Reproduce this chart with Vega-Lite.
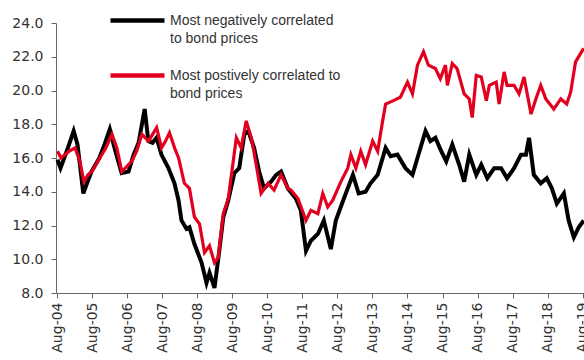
{
  "$schema": "https://vega.github.io/schema/vega-lite/v6.json",
  "width": 528,
  "height": 270,
  "autosize": {"type": "none"},
  "padding": {"left": 56, "top": 23, "right": 0, "bottom": 67},
  "background": "#ffffff",
  "config": {
    "view": {"stroke": null},
    "style": {"guide-label": {"lineHeight": 18}}
  },
  "datasets": {
    "neg": [
      {"date":"2004-08-05","value":15.9},{"date":"2004-09-05","value":15.4},{"date":"2004-11-15","value":16.5},
      {"date":"2005-01-20","value":17.6},{"date":"2005-03-01","value":16.8},{"date":"2005-05-01","value":13.9},
      {"date":"2005-06-15","value":14.6},{"date":"2005-07-25","value":15.2},{"date":"2005-10-15","value":16.0},
      {"date":"2005-12-08","value":16.8},{"date":"2006-02-01","value":17.7},{"date":"2006-03-22","value":16.6},
      {"date":"2006-06-04","value":15.1},{"date":"2006-08-15","value":15.2},{"date":"2006-10-07","value":16.2},
      {"date":"2006-11-28","value":16.9},{"date":"2007-01-30","value":18.9},{"date":"2007-03-10","value":17.0},
      {"date":"2007-04-22","value":16.9},{"date":"2007-06-03","value":17.2},{"date":"2007-07-24","value":16.2},
      {"date":"2007-10-05","value":15.4},{"date":"2007-12-07","value":14.5},{"date":"2008-01-18","value":13.5},
      {"date":"2008-02-18","value":12.3},{"date":"2008-04-10","value":11.8},{"date":"2008-05-11","value":11.9},
      {"date":"2008-07-02","value":10.9},{"date":"2008-09-14","value":9.8},{"date":"2008-11-05","value":8.6},
      {"date":"2008-12-06","value":9.2},{"date":"2009-01-27","value":8.3},{"date":"2009-03-18","value":10.5},
      {"date":"2009-04-29","value":12.5},{"date":"2009-06-20","value":13.5},{"date":"2009-08-22","value":15.1},
      {"date":"2009-10-12","value":15.4},{"date":"2009-12-04","value":17.4},{"date":"2010-01-15","value":17.6},
      {"date":"2010-03-16","value":16.6},{"date":"2010-05-07","value":15.2},{"date":"2010-06-28","value":14.2},
      {"date":"2010-09-09","value":14.6},{"date":"2010-11-01","value":15.0},{"date":"2010-12-22","value":15.2},
      {"date":"2011-03-03","value":14.2},{"date":"2011-05-25","value":13.6},{"date":"2011-07-16","value":12.9},
      {"date":"2011-09-08","value":10.5},{"date":"2011-10-29","value":11.1},{"date":"2012-01-10","value":11.5},
      {"date":"2012-03-12","value":12.3},{"date":"2012-05-24","value":10.6},{"date":"2012-07-15","value":12.3},
      {"date":"2012-10-07","value":13.6},{"date":"2013-01-09","value":15.0},{"date":"2013-03-10","value":13.9},
      {"date":"2013-05-21","value":14.0},{"date":"2013-07-12","value":14.5},{"date":"2013-09-24","value":15.0},
      {"date":"2013-12-16","value":16.6},{"date":"2014-02-06","value":16.1},{"date":"2014-04-18","value":16.2},
      {"date":"2014-07-11","value":15.4},{"date":"2014-09-22","value":15.0},{"date":"2014-11-13","value":16.0},
      {"date":"2015-02-05","value":17.6},{"date":"2015-03-28","value":17.0},{"date":"2015-05-19","value":17.2},
      {"date":"2015-07-19","value":16.4},{"date":"2015-09-09","value":15.8},{"date":"2015-11-11","value":16.8},
      {"date":"2016-01-22","value":15.6},{"date":"2016-03-14","value":14.6},{"date":"2016-05-06","value":16.2},
      {"date":"2016-07-18","value":15.0},{"date":"2016-09-08","value":15.6},{"date":"2016-11-10","value":14.8},
      {"date":"2017-01-21","value":15.4},{"date":"2017-04-03","value":15.4},{"date":"2017-06-04","value":14.8},
      {"date":"2017-08-16","value":15.4},{"date":"2017-10-27","value":16.2},{"date":"2017-12-18","value":16.2},
      {"date":"2018-01-19","value":17.2},{"date":"2018-03-10","value":15.0},{"date":"2018-05-21","value":14.5},
      {"date":"2018-07-23","value":14.8},{"date":"2018-09-14","value":14.2},{"date":"2018-11-05","value":13.3},
      {"date":"2019-01-17","value":13.9},{"date":"2019-03-08","value":12.3},{"date":"2019-05-01","value":11.3},
      {"date":"2019-06-21","value":11.9},{"date":"2019-08-12","value":12.3}
    ],
    "pos": [
      {"date":"2004-08-05","value":16.4},{"date":"2004-09-10","value":16.0},{"date":"2004-12-03","value":16.4},
      {"date":"2005-02-04","value":16.6},{"date":"2005-03-26","value":15.8},{"date":"2005-05-07","value":14.6},
      {"date":"2005-06-18","value":15.0},{"date":"2005-07-29","value":15.2},{"date":"2005-10-20","value":16.0},
      {"date":"2005-12-22","value":16.6},{"date":"2006-02-24","value":17.4},{"date":"2006-04-15","value":16.6},
      {"date":"2006-06-06","value":15.2},{"date":"2006-09-18","value":15.8},{"date":"2006-11-08","value":16.4},
      {"date":"2007-01-01","value":17.4},{"date":"2007-03-12","value":17.0},{"date":"2007-04-23","value":17.4},
      {"date":"2007-06-04","value":17.8},{"date":"2007-07-25","value":16.6},{"date":"2007-09-05","value":17.0},
      {"date":"2007-10-16","value":17.5},{"date":"2007-12-08","value":16.6},{"date":"2008-01-19","value":16.0},
      {"date":"2008-03-19","value":14.5},{"date":"2008-05-11","value":14.2},{"date":"2008-07-02","value":12.5},
      {"date":"2008-08-24","value":12.1},{"date":"2008-10-15","value":10.4},{"date":"2008-12-06","value":10.8},
      {"date":"2009-01-27","value":9.8},{"date":"2009-03-07","value":10.1},{"date":"2009-04-29","value":12.7},
      {"date":"2009-06-20","value":13.6},{"date":"2009-09-12","value":17.2},{"date":"2009-11-02","value":16.6},
      {"date":"2009-12-24","value":18.2},{"date":"2010-02-15","value":17.2},{"date":"2010-04-07","value":15.6},
      {"date":"2010-05-28","value":13.9},{"date":"2010-08-09","value":14.5},{"date":"2010-10-10","value":14.1},
      {"date":"2010-12-22","value":15.0},{"date":"2011-03-03","value":14.2},{"date":"2011-04-04","value":14.1},
      {"date":"2011-06-16","value":13.6},{"date":"2011-09-08","value":12.3},{"date":"2011-10-29","value":12.9},
      {"date":"2012-01-10","value":12.7},{"date":"2012-03-01","value":13.9},{"date":"2012-04-22","value":13.1},
      {"date":"2012-06-13","value":13.5},{"date":"2012-09-06","value":14.6},{"date":"2012-11-16","value":15.4},
      {"date":"2012-12-19","value":16.2},{"date":"2013-02-09","value":15.4},{"date":"2013-04-01","value":16.4},
      {"date":"2013-05-21","value":15.6},{"date":"2013-08-03","value":17.0},{"date":"2013-09-24","value":16.4},
      {"date":"2013-11-15","value":18.2},{"date":"2013-12-16","value":19.2},{"date":"2014-03-07","value":19.4},
      {"date":"2014-05-19","value":19.6},{"date":"2014-08-01","value":20.5},{"date":"2014-09-22","value":19.8},
      {"date":"2014-11-13","value":21.5},{"date":"2015-01-15","value":22.3},{"date":"2015-03-07","value":21.5},
      {"date":"2015-05-19","value":21.3},{"date":"2015-07-09","value":20.7},{"date":"2015-09-01","value":21.5},
      {"date":"2015-09-21","value":20.3},{"date":"2015-11-11","value":21.6},{"date":"2015-12-31","value":21.3},
      {"date":"2016-03-14","value":19.8},{"date":"2016-05-06","value":19.5},{"date":"2016-06-06","value":18.4},
      {"date":"2016-07-18","value":20.9},{"date":"2016-09-08","value":20.8},{"date":"2016-10-31","value":19.4},
      {"date":"2016-12-01","value":20.3},{"date":"2017-02-11","value":20.5},{"date":"2017-03-13","value":19.2},
      {"date":"2017-05-04","value":21.1},{"date":"2017-06-04","value":20.3},{"date":"2017-08-16","value":20.3},
      {"date":"2017-10-07","value":19.8},{"date":"2017-11-28","value":20.8},{"date":"2018-02-09","value":18.6},
      {"date":"2018-03-31","value":19.5},{"date":"2018-05-21","value":20.3},{"date":"2018-07-13","value":19.5},
      {"date":"2018-10-04","value":18.9},{"date":"2018-12-16","value":19.5},{"date":"2019-02-16","value":19.2},
      {"date":"2019-03-29","value":19.9},{"date":"2019-05-19","value":21.7},{"date":"2019-07-22","value":22.3},
      {"date":"2019-08-12","value":22.5}
    ]
  },
  "encoding": {
    "x": {
      "field": "date",
      "type": "temporal",
      "scale": {"domain": [{"year": 2004, "month": 7, "date": 20}, {"year": 2019, "month": 8, "date": 15}], "nice": false},
      "axis": {
        "title": null,
        "values": [
          {"year":2004,"month":8,"date":1},{"year":2005,"month":8,"date":1},{"year":2006,"month":8,"date":1},
          {"year":2007,"month":8,"date":1},{"year":2008,"month":8,"date":1},{"year":2009,"month":8,"date":1},
          {"year":2010,"month":8,"date":1},{"year":2011,"month":8,"date":1},{"year":2012,"month":8,"date":1},
          {"year":2013,"month":8,"date":1},{"year":2014,"month":8,"date":1},{"year":2015,"month":8,"date":1},
          {"year":2016,"month":8,"date":1},{"year":2017,"month":8,"date":1},{"year":2018,"month":8,"date":1},
          {"year":2019,"month":8,"date":1}
        ],
        "format": "%b-%y",
        "labelAngle": -90,
        "labelFont": "DejaVu Sans",
        "labelFontSize": 14,
        "labelColor": "#333333",
        "labelPadding": 4,
        "labelOverlap": false,
        "labelBound": false,
        "labelFlush": false,
        "grid": false,
        "domainColor": "#666666",
        "tickColor": "#666666",
        "tickSize": 5
      }
    },
    "y": {
      "field": "value",
      "type": "quantitative",
      "scale": {"domain": [8, 24], "nice": false, "zero": false},
      "axis": {
        "title": null,
        "values": [8, 10, 12, 14, 16, 18, 20, 22, 24],
        "format": ".1f",
        "labelFont": "DejaVu Sans",
        "labelFontSize": 14,
        "labelColor": "#333333",
        "labelPadding": 8,
        "grid": false,
        "domainColor": "#666666",
        "tickColor": "#666666",
        "tickSize": 5
      }
    },
    "color": {
      "type": "nominal",
      "scale": {
        "domain": ["Most negatively correlated to bond prices", "Most postively correlated to bond prices"],
        "range": ["#000000", "#e3001f"]
      },
      "legend": {
        "title": null,
        "orient": "none",
        "legendX": 52,
        "legendY": -32,
        "padding": 0,
        "symbolType": "stroke",
        "symbolSize": 2916,
        "symbolStrokeWidth": 4.5,
        "labelFont": "Liberation Sans",
        "labelFontSize": 14,
        "labelColor": "#333333",
        "labelOffset": 3,
        "labelLimit": 300,
        "labelBaseline": "middle",
        "rowPadding": -11,
        "labelExpr": "indexof(datum.label, 'negatively') >= 0 ? ['Most negatively correlated', 'to bond prices'] : ['Most postively correlated to', 'bond prices']"
      }
    }
  },
  "layer": [
    {
      "data": {"name": "neg"},
      "mark": {"type": "line", "strokeWidth": 4, "interpolate": "linear"},
      "encoding": {"color": {"datum": "Most negatively correlated to bond prices"}}
    },
    {
      "data": {"name": "pos"},
      "mark": {"type": "line", "strokeWidth": 3.2, "interpolate": "linear"},
      "encoding": {"color": {"datum": "Most postively correlated to bond prices"}}
    }
  ]
}
